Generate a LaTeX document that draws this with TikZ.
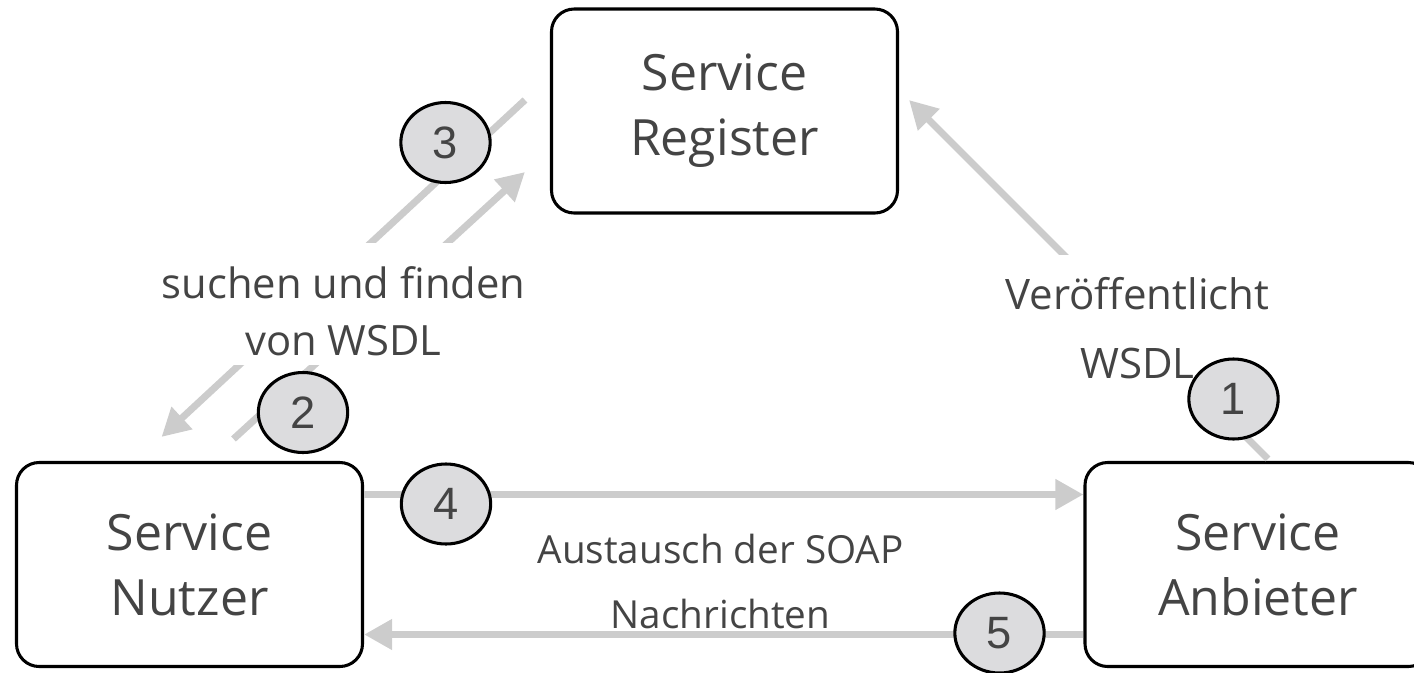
\documentclass[tikz,border=0pt]{standalone}
\usepackage{fontspec}
\setmainfont{Open Sans}
\newfontfamily\digitfont{Liberation Sans}
\usetikzlibrary{arrows.meta,calc,shapes.geometric}
\definecolor{wsline}{HTML}{CCCCCC}
\definecolor{wsfill}{HTML}{DCDCDE}
\definecolor{wstext}{HTML}{444444}

\begin{document}
\begin{tikzpicture}[x=0.75pt,y=-0.75pt,
  svc/.style={draw=black, line width=2.3pt, rounded corners=17pt,
    minimum width=259.5pt, minimum height=153pt, inner sep=0pt,
    align=center, text=wstext, font={\fontsize{37.5}{48.75}\selectfont}},
  flow/.style={draw=wsline, line width=5.25pt,
    -{Triangle[length=21pt,width=21.75pt]}},
  note/.style 2 args={align=center, text=wstext, inner xsep=4pt, inner ysep=0pt,
    anchor=base, font={\fontsize{#1}{#2}\selectfont}},
  num/.style={ellipse, draw=black, line width=2.3pt, fill=wsfill,
    minimum width=67pt, minimum height=60pt, inner sep=0pt,
    text=wstext, font={\digitfont\fontsize{34}{40}\selectfont}}]
  \useasboundingbox (0,0) rectangle (1414,672);
  % the three parties
  \node[svc] (reg) at (724.5,111) {Service\\Register};
  \node[svc] (nutzer) at (189.5,564.5) {Service\\Nutzer};
  \node[svc] (anb) at (1258,564.5) {Service\\Anbieter};
  % publish
  \draw[flow] ($(anb.north)+(10,-2)$) -- ($(reg.east)+(10,-11)$);
  % find
  \draw[flow] ($(reg.west)+(-25,-11)$) -- ($(nutzer.north)+(-28,-24)$);
  \draw[flow] ($(nutzer.north)+(44,-22)$) -- ($(reg.west)+(-25,61)$);
  % SOAP exchange
  \draw[flow] ($(nutzer.east)+(0,-70)$) -- ($(anb.west)+(0,-70)$);
  \draw[flow] ($(anb.west)+(0,70)$) -- ($(nutzer.east)+(0,70)$);
  % labels (base = last line)
  \node[note={31.3}{42.75pt}, fill=white, text height=84pt, text depth=7.5pt]
    (find) at (343.5,355) {suchen und finden\\von WSDL};
  \node[note={31.5}{51.75pt}, fill=white, text height=92.25pt, text depth=7.5pt]
    (pub) at (1137.5,378) {Veröffentlicht\\WSDL};
  \node[note={29}{48.75pt}] (soap) at (720.5,628) {Austausch der SOAP\\Nachrichten};
  % step numbers
  \node[num] (n1) at (1233.5,399) {1};
  \node[num] (n2) at (303,412.5) {2};
  \node[num] (n3) at (445.5,142.5) {3};
  \node[num] (n4) at (446,504) {4};
  \node[num] (n5) at (999.5,633) {5};
\end{tikzpicture}
\end{document}
